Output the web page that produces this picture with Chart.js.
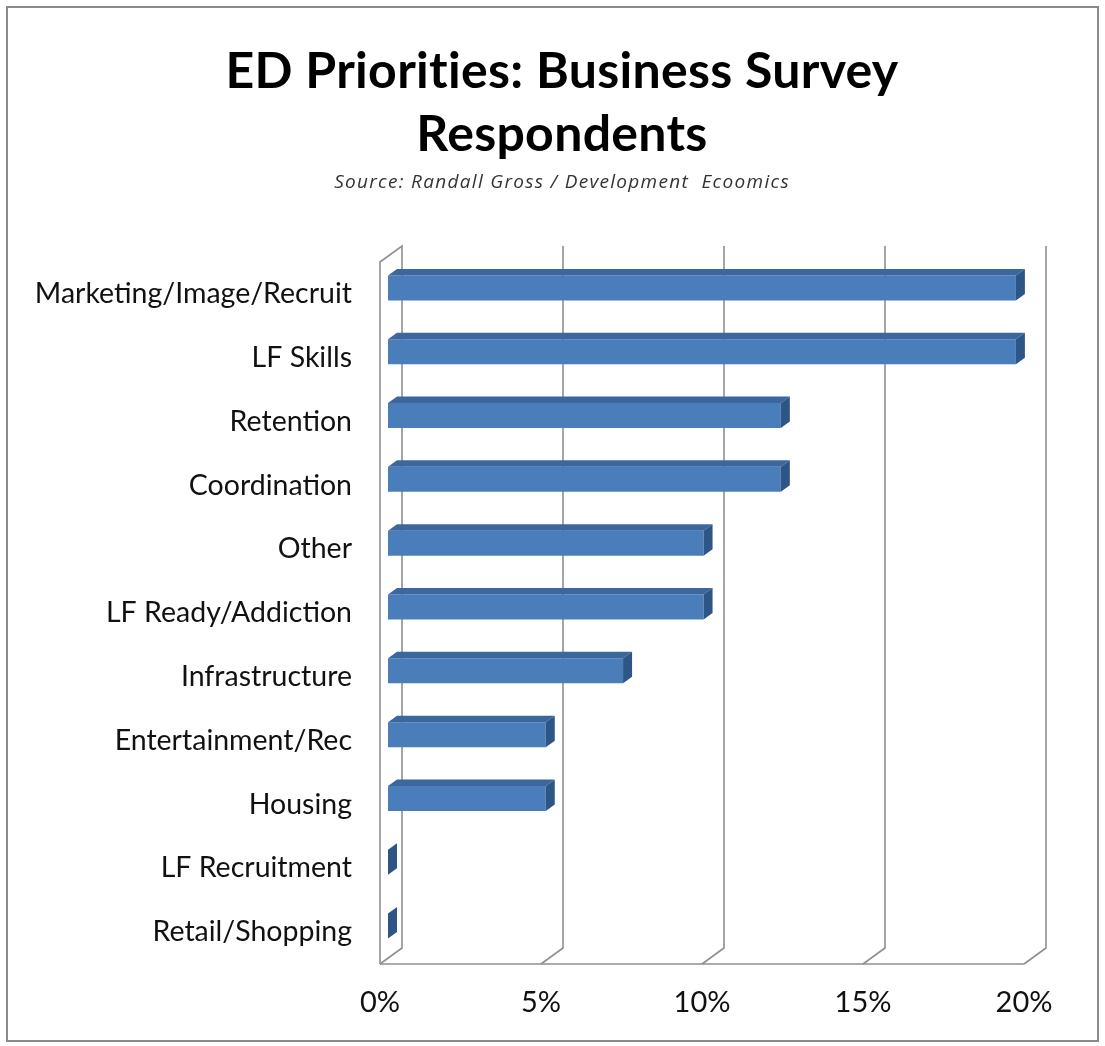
<!DOCTYPE html>
<html>
<head>
<meta charset="utf-8">
<script src="https://cdn.jsdelivr.net/npm/chart.js@4/dist/chart.umd.min.js"></script>
<style>
  html, body { margin: 0; padding: 0; background: #ffffff; }
  #wrap { width: 1105px; height: 1046px; position: relative; }
</style>
</head>
<body>
<div id="wrap"><canvas id="c" width="1105" height="1046"></canvas></div>
<script>
// Survey priorities, share of respondents (%)
const categories = [
  'Marketing/Image/Recruit',
  'LF Skills',
  'Retention',
  'Coordination',
  'Other',
  'LF Ready/Addiction',
  'Infrastructure',
  'Entertainment/Rec',
  'Housing',
  'LF Recruitment',
  'Retail/Shopping'
];
const shares = [19.5, 19.5, 12.2, 12.2, 9.8, 9.8, 7.3, 4.9, 4.9, 0, 0];
const tickValues = [0, 5, 10, 15, 20];
const titleLines = ['ED Priorities: Business Survey', 'Respondents'];
const sourceLine = 'Source: Randall Gross / Development  Ecoomics';

// 3D geometry: wall depth and the plane the bars sit in
const WALL_DX = 22, WALL_DY = -16;
const BAR_DX = 8, BAR_DY = -6;
const DEPTH_DX = 9, DEPTH_DY = -6.5;
const GRID = '#8f8f8f';

// Heading block, centred over the whole frame
const headings = {
  id: 'headings',
  afterDraw(chart) {
    const ctx = chart.ctx;
    const cx = 562;
    ctx.save();
    ctx.textAlign = 'center';
    ctx.textBaseline = 'middle';
    ctx.fillStyle = '#000000';
    ctx.font = 'bold 50px Lato';
    ctx.letterSpacing = '0.3px';
    ctx.fillText(titleLines[0], cx, 72);
    ctx.fillText(titleLines[1], cx, 135);
    ctx.font = 'italic 19px "Open Sans"';
    ctx.letterSpacing = '1.3px';
    ctx.fillStyle = '#333333';
    ctx.fillText(sourceLine, cx, 183);
    ctx.restore();
  }
};

const frame3d = {
  id: 'frame3d',
  beforeDraw(chart) {
    const ctx = chart.ctx;
    ctx.save();
    ctx.fillStyle = '#ffffff';
    ctx.fillRect(0, 0, chart.width, chart.height);
    ctx.strokeStyle = '#8a8a8a';
    ctx.lineWidth = 2;
    ctx.strokeRect(7, 7, 1091, 1034);
    ctx.restore();
  },
  beforeDatasetsDraw(chart) {
    const ctx = chart.ctx, a = chart.chartArea, xs = chart.scales.x;
    ctx.save();
    ctx.strokeStyle = GRID;
    ctx.lineWidth = 1.6;
    // left side wall
    ctx.beginPath();
    ctx.moveTo(a.left, a.bottom);
    ctx.lineTo(a.left, a.top);
    ctx.lineTo(a.left + WALL_DX, a.top + WALL_DY);
    ctx.lineTo(a.left + WALL_DX, a.bottom + WALL_DY);
    ctx.lineTo(a.left, a.bottom);
    ctx.stroke();
    // floor front edge
    ctx.beginPath();
    ctx.moveTo(a.left, a.bottom);
    ctx.lineTo(xs.getPixelForValue(tickValues[tickValues.length - 1]), a.bottom);
    ctx.stroke();
    // gridlines on floor and back wall
    tickValues.forEach(v => {
      if (v === 0) return;
      const px = xs.getPixelForValue(v);
      ctx.beginPath();
      ctx.moveTo(px, a.bottom);
      ctx.lineTo(px + WALL_DX, a.bottom + WALL_DY);
      ctx.lineTo(px + WALL_DX, a.top + WALL_DY);
      ctx.stroke();
    });
    ctx.restore();
  },
  beforeDatasetDraw(chart) {
    chart.ctx.save();
    chart.ctx.translate(BAR_DX, BAR_DY);
  },
  afterDatasetDraw(chart, args) {
    const ctx = chart.ctx;
    const meta = chart.getDatasetMeta(args.index);
    meta.data.forEach(bar => {
      const p = bar.getProps(['x', 'y', 'base', 'height'], true);
      const top = p.y - p.height / 2, bottom = p.y + p.height / 2;
      // top face
      ctx.fillStyle = '#3b679e';
      ctx.beginPath();
      ctx.moveTo(p.base, top);
      ctx.lineTo(p.base + DEPTH_DX, top + DEPTH_DY);
      ctx.lineTo(p.x + DEPTH_DX, top + DEPTH_DY);
      ctx.lineTo(p.x, top);
      ctx.closePath();
      ctx.fill();
      // end face
      ctx.fillStyle = '#2d5686';
      ctx.beginPath();
      ctx.moveTo(p.x, top);
      ctx.lineTo(p.x + DEPTH_DX, top + DEPTH_DY);
      ctx.lineTo(p.x + DEPTH_DX, bottom + DEPTH_DY);
      ctx.lineTo(p.x, bottom);
      ctx.closePath();
      ctx.fill();
    });
    ctx.restore();
  }
};

new Chart(document.getElementById('c'), {
  type: 'bar',
  data: {
    labels: categories,
    datasets: [{
      data: shares,
      backgroundColor: '#4a7ebb',
      borderWidth: 0,
      categoryPercentage: 1,
      barPercentage: 0.392
    }]
  },
  options: {
    indexAxis: 'y',
    responsive: false,
    animation: false,
    layout: { padding: { left: 10, right: 81, top: 262, bottom: 10 } },
    plugins: {
      legend: { display: false },
      tooltip: { enabled: false },
      title: { display: false },
      subtitle: { display: false }
    },
    scales: {
      x: {
        min: 0,
        max: 20,
        grid: { display: false, drawTicks: false },
        border: { display: false },
        afterBuildTicks(scale) { scale.ticks = tickValues.map(v => ({ value: v })); },
        afterFit(scale) { scale.height = 72; },
        ticks: {
          padding: 21,
          color: '#111111',
          font: { family: 'Lato', size: 29 },
          callback: v => v + '%'
        }
      },
      y: {
        grid: { display: false, drawTicks: false },
        border: { display: false },
        afterFit(scale) { scale.width = 370; },
        ticks: {
          padding: 28,
          color: '#111111',
          font: { family: 'Lato', size: 28.5 }
        }
      }
    }
  },
  plugins: [frame3d, headings]
});
</script>
</body>
</html>
